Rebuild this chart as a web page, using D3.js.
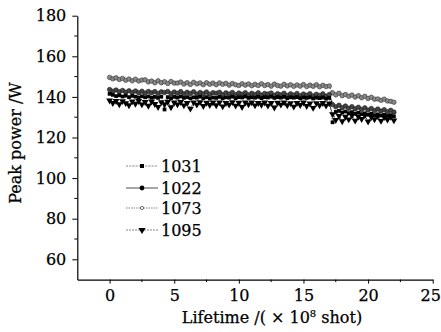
<!DOCTYPE html>
<html>
<head>
<meta charset="utf-8">
<script src="https://cdn.jsdelivr.net/npm/d3@7"></script>
<style>
  body { margin: 0; background: #fff; }
  text { font-family: "DejaVu Serif", serif; fill: #000; stroke: #000; stroke-width: 0.25; }
</style>
</head>
<body>
<div id="chart"></div>
<script>
const width = 441, height = 332;

// lifetime, x 10^8 shots
const lifetime = [
  0, 0.25, 0.5, 0.75, 1, 1.25, 1.5, 1.75, 2, 2.25, 2.5, 2.75, 3, 3.25, 3.5, 3.75, 4,
  4.25, 4.5, 4.75, 5, 5.25, 5.5, 5.75, 6, 6.25, 6.5, 6.75, 7, 7.25, 7.5, 7.75, 8,
  8.25, 8.5, 8.75, 9, 9.25, 9.5, 9.75, 10, 10.25, 10.5, 10.75, 11, 11.25, 11.5, 11.75, 12,
  12.25, 12.5, 12.75, 13, 13.25, 13.5, 13.75, 14, 14.25, 14.5, 14.75, 15, 15.25, 15.5, 15.75, 16, 16.25, 16.5, 16.75, 17,
  17.25, 17.5, 17.75, 18, 18.25, 18.5, 18.75, 19, 19.25, 19.5, 19.75, 20, 20.25, 20.5, 20.75, 21, 21.25, 21.5, 21.75, 22
];

const p1073 = [
  149.6,148.9,149.4,148.6,149.1,148.2,148.8,147.9,148.7,147.8,148.3,148.4,147.4,147.8,147.0,147.9,147.0,
  147.5,146.6,147.6,146.8,146.8,147.3,146.3,147.0,146.1,147.2,146.4,146.9,146.0,147.0,146.2,146.8,
  146.0,146.9,146.2,146.7,145.8,146.6,146.0,145.6,146.5,145.8,146.4,145.5,146.2,145.6,146.5,145.6,
  146.1,145.3,146.3,145.6,145.3,146.2,145.4,146.0,145.2,145.9,145.3,146.1,145.1,145.8,145.2,146.0,145.0,145.7,145.1,145.4,
  142.0,141.0,141.8,140.6,141.2,140.3,140.9,139.9,140.6,139.6,140.3,139.2,139.8,138.9,139.0,138.3,138.9,138.0,137.8,137.4
];
const p1022 = [
  143.6,142.8,143.4,142.5,143.2,142.3,143.0,142.2,142.9,142.1,142.8,141.9,142.7,142.0,142.6,141.7,142.5,
  142.2,142.7,141.6,142.4,141.8,142.6,141.5,142.3,141.7,142.5,141.4,142.2,141.6,142.4,141.3,142.1,
  141.8,142.3,141.2,142.0,141.4,142.2,141.1,141.9,141.3,142.1,141.0,141.8,141.2,142.0,140.9,141.7,
  141.4,141.9,140.8,141.6,141.0,141.8,140.7,141.5,140.9,141.7,140.6,141.4,140.8,141.6,140.5,141.3,140.7,141.5,140.4,141.2,
  136.2,135.1,135.9,134.7,135.5,134.4,135.2,134.1,134.9,133.8,134.6,133.5,134.3,133.3,134.0,133.0,133.7,132.7,133.4,132.5
];
const p1031 = [
  141.5,141.0,140.4,140.8,140.2,140.6,139.9,140.5,140.1,139.7,140.3,139.8,140.2,139.6,140.0,139.5,140.1,
  133.8,139.9,139.4,140.0,139.6,140.2,139.5,139.9,139.3,139.8,139.6,140.1,139.4,139.9,139.2,139.7,
  139.5,140.0,139.3,139.8,139.6,140.1,139.4,139.9,139.7,140.2,139.5,139.8,139.6,140.0,139.4,139.9,
  139.7,140.1,139.5,139.9,139.6,140.0,139.4,139.8,139.6,139.9,139.3,139.7,139.5,139.8,139.2,139.6,139.4,139.7,139.1,139.5,
  127.5,132.6,133.1,132.3,132.8,132.0,132.5,131.7,132.2,131.5,131.9,131.2,131.7,131.0,131.4,130.8,131.2,130.6,131.0,130.4
];
const p1095 = [
  138.2,137.0,138.0,136.4,137.9,136.9,135.9,137.8,136.6,138.0,136.3,137.5,135.6,137.7,136.5,135.0,137.4,
  136.4,137.6,134.9,137.2,136.3,137.5,135.8,137.0,134.2,137.3,136.2,137.4,135.5,137.1,136.0,137.2,
  135.9,137.3,135.3,137.0,136.2,137.4,135.7,137.1,135.0,137.2,136.3,137.3,135.8,137.0,136.1,137.2,
  135.7,137.0,134.8,137.1,136.2,137.3,135.9,136.9,135.2,137.0,136.0,137.2,135.5,136.8,134.6,136.9,135.9,137.0,135.7,136.8,
  131.5,128.6,130.6,128.0,130.2,128.9,130.8,128.3,130.3,129.1,130.9,127.9,130.1,129.0,130.5,128.2,130.0,128.8,130.2,128.4
];

const seriesNames = ["1031", "1022", "1073", "1095"];
const seriesValues = [p1031, p1022, p1073, p1095];
const xTicks = [0, 5, 10, 15, 20, 25];
const yTicks = [60, 80, 100, 120, 140, 160, 180];

// drawing styles per series (order as in legend)
const styles = [
  { symbol: d3.symbolSquare,   size: 14, fill: "#000", stroke: "none", line: "#555", dash: "2,1.2" },
  { symbol: d3.symbolCircle,   size: 16, fill: "#444", stroke: "#1a1a1a", line: "#000", dash: null },
  { symbol: d3.symbolCircle,   size: 16, fill: "#888", stroke: "#333", line: "#666", dash: "1.5,1" },
  { symbol: d3.symbolTriangle, size: 20, fill: "#000", stroke: "none", line: "#333", dash: "2,1", rotate: 180 }
];

const svg = d3.select("#chart").append("svg")
  .attr("width", width)
  .attr("height", height);

const x = d3.scaleLinear([-2.5, 25], [77.3, 432.7]);
const y = d3.scaleLinear([50, 180], [279.6, 15.7]);

// data, drawn back to front so the lower bands sit on top
const drawOrder = [2, 1, 0, 3];
drawOrder.forEach(si => {
  const st = styles[si];
  const pts = d3.zip(lifetime, seriesValues[si]);
  const g = svg.append("g").attr("class", "series s" + seriesNames[si]);

  g.append("path")
    .attr("d", d3.line().x(d => x(d[0])).y(d => y(d[1]))(pts))
    .attr("fill", "none")
    .attr("stroke", st.line)
    .attr("stroke-width", 0.9)
    .attr("stroke-dasharray", st.dash);

  g.selectAll("path.mark")
    .data(pts)
    .join("path")
      .attr("class", "mark")
      .attr("d", d3.symbol(st.symbol, st.size))
      .attr("transform", d => `translate(${x(d[0])},${y(d[1])})` + (st.rotate ? ` rotate(${st.rotate})` : ""))
      .attr("fill", st.fill)
      .attr("stroke", st.stroke)
      .attr("stroke-width", 0.6);
});

// axes
const xAxis = svg.append("g").attr("transform", `translate(0,${y(50)})`);
xAxis.call(d3.axisBottom(x).tickValues(xTicks).tickSize(4).tickSizeOuter(0).tickPadding(6));
xAxis.append("g").selectAll("line")
  .data([2.5, 7.5, 12.5, 17.5, 22.5])
  .join("line")
    .attr("x1", d => x(d)).attr("x2", d => x(d))
    .attr("y1", 0).attr("y2", 2.5)
    .attr("stroke", "#000");

const yAxis = svg.append("g").attr("transform", `translate(${x(-2.5)},0)`);
yAxis.call(d3.axisLeft(y).tickValues(yTicks).tickSize(5).tickSizeOuter(0).tickPadding(6));
yAxis.append("g").selectAll("line")
  .data([70, 90, 110, 130, 150, 170])
  .join("line")
    .attr("x1", 0).attr("x2", -3)
    .attr("y1", d => y(d)).attr("y2", d => y(d))
    .attr("stroke", "#000");

svg.selectAll(".domain").attr("stroke", "#000").attr("stroke-width", 1.2);
svg.selectAll(".tick line").attr("stroke", "#000");
svg.selectAll(".tick text")
  .attr("font-family", "DejaVu Serif")
  .attr("font-size", 16)
  .attr("fill", "#000");
// last label sits at the page edge; nudge it in a little
xAxis.selectAll(".tick text").filter(d => d === 25).attr("dx", -2.5);

// axis titles
svg.append("text")
  .attr("transform", `translate(21,143) rotate(-90)`)
  .attr("text-anchor", "middle")
  .attr("font-size", 16)
  .text("Peak power /W");

const xt = svg.append("text")
  .attr("x", 272)
  .attr("y", 323)
  .attr("text-anchor", "middle")
  .attr("font-size", 16);
xt.append("tspan").text("Lifetime /( × 10");
xt.append("tspan").attr("font-size", 10).attr("dy", -6).text("8");
xt.append("tspan").attr("dy", 6).text(" shot)");

// legend
const legendY = [166, 188, 208, 230];
const legend = svg.append("g").attr("class", "legend");
seriesNames.forEach((name, i) => {
  const st = styles[i];
  const row = legend.append("g").attr("transform", `translate(0,${legendY[i]})`);
  row.append("line")
    .attr("x1", 126).attr("x2", 158)
    .attr("stroke", st.line === "#000" ? "#000" : "#555")
    .attr("stroke-width", 0.7)
    .attr("stroke-dasharray", st.dash);
  row.append("path")
    .attr("d", d3.symbol(st.symbol, i === 2 ? 8 : st.size + 2))
    .attr("transform", `translate(142,0)` + (st.rotate ? ` rotate(${st.rotate})` : ""))
    .attr("fill", i === 2 ? "#fff" : "#000")
    .attr("stroke", i === 2 ? "#333" : "none")
    .attr("stroke-width", 0.7);
  row.append("text")
    .attr("x", 161)
    .attr("y", 0)
    .attr("dy", "0.36em")
    .attr("font-size", 16)
    .text(name);
});
</script>
</body>
</html>
